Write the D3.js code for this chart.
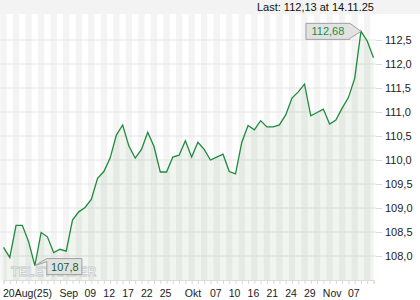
<!DOCTYPE html>
<html>
<head>
<meta charset="utf-8">
<script src="https://cdn.jsdelivr.net/npm/d3@7"></script>
<style>
  body { margin: 0; background: #fff; }
  svg { display: block; font-family: "Liberation Sans", Arial, sans-serif; }
</style>
</head>
<body>
<svg id="chart"></svg>
<script>
// values
const prices = [
  108.18, 107.97, 108.64, 108.64, 108.30, 107.80, 108.49, 108.40, 108.07, 108.14,
  108.10, 108.75, 108.92, 109.01, 109.18, 109.62, 109.76, 110.04, 110.52, 110.73,
  110.29, 110.04, 110.22, 110.58, 110.28, 109.75, 109.75, 110.06, 110.10, 110.40,
  110.06, 110.37, 110.22, 110.00, 110.06, 110.12, 109.76, 109.71, 110.37, 110.72,
  110.63, 110.82, 110.69, 110.69, 110.73, 110.94, 111.29, 111.42, 111.58, 110.92,
  110.99, 111.06, 110.75, 110.83, 111.08, 111.30, 111.70, 112.68, 112.48, 112.13
]
const xTickIndex = [0, 9, 13, 16, 19, 22, 25, 29, 33, 36, 39, 42, 45, 48, 51, 55]
const xTickLabels = ["20Aug(25)", "Sep", "09", "12", "17", "22", "25", "Okt", "07", "10", "16", "21", "24", "29", "Nov", "07"]
const yTicks = [108.0, 108.5, 109.0, 109.5, 110.0, 110.5, 111.0, 111.5, 112.0, 112.5]
const headerText = "Last: 112,13 at 14.11.25"
const maxLabel = "112,68", minLabel = "107,8"

const width = 420, height = 300
const plot = { left: 0, right: 376, top: 14, bottom: 280 }

const svg = d3.select('#chart').attr("width", width).attr("height", height)

const x = d3.scaleLinear().domain([0, prices.length - 1]).range([3.5, 373.5])
const y = d3.scaleLinear().domain([108.0, 112.5]).range([256, 40])
const fmt = d3.formatLocale({ decimal: ",", thousands: ".", grouping: [3], currency: ["", ""] }).format(".1f")

// header band
svg.append("rect").attr("x", 0).attr("y", 0).attr("width", width).attr("height", plot.top).attr("fill", "#f3f3f3")
svg.append("text").attr("x", 374).attr("y", 11).attr("text-anchor", "end")
  .attr("font-size", 11).attr("fill", "#111").text(headerText)

// vertical stripes, one per day
const step = x(1) - x(0)
svg.append("g").selectAll("rect")
  .data(prices.map((_, i) => i).filter(i => i % 2 === 0))
  .join("rect")
  .attr("x", i => x(i) - step / 2)
  .attr("y", plot.top)
  .attr("width", step)
  .attr("height", plot.bottom - plot.top)
  .attr("fill", "#f4f4f4")

// horizontal grid + right axis
const yAxis = svg.append("g").attr("transform", `translate(${plot.right},0)`)
  .call(d3.axisRight(y).tickValues(yTicks).tickSize(6).tickPadding(3).tickFormat(fmt))
yAxis.select(".domain").remove()
yAxis.selectAll("line").attr("stroke", "#dcdcdc")
yAxis.selectAll("text").attr("font-size", 11).attr("fill", "#222").attr("font-family", "Liberation Sans, Arial, sans-serif")
svg.append("g").selectAll("line").data(yTicks).join("line")
  .attr("x1", plot.left).attr("x2", plot.right)
  .attr("y1", d => y(d)).attr("y2", d => y(d))
  .attr("stroke", "#e4e4e4")

// area + line
const area = d3.area().x((_, i) => x(i)).y0(plot.bottom).y1(d => y(d))
svg.append("path").datum(prices).attr("d", area).attr("fill", "rgba(40,120,40,0.07)")
const line = d3.line().x((_, i) => x(i)).y(d => y(d))
svg.append("path").datum(prices).attr("d", line)
  .attr("fill", "none").attr("stroke", "#1f8a3c").attr("stroke-width", 1.3)

// watermark
svg.append("text").attr("x", 11).attr("y", 276).attr("font-size", 12).attr("font-weight", "bold")
  .attr("letter-spacing", 0.5).attr("fill", "#fff").attr("stroke", "#c8c8c8").attr("stroke-width", 0.8)
  .text("TELETRADER")

// bottom axis
const xAxis = svg.append("g").attr("transform", `translate(0,${plot.bottom})`)
  .call(d3.axisBottom(x).tickValues(prices.map((_, i) => i)).tickSize(4).tickFormat(""))
xAxis.select(".domain").attr("stroke", "#dcdcdc")
xAxis.selectAll("line").attr("stroke", "#d8d8d8")
svg.append("g").selectAll("text").data(xTickIndex).join("text")
  .attr("x", d => x(d) - 0.5)
  .attr("y", 297)
  .attr("font-size", 10.5).attr("fill", "#222")
  .text((_, i) => xTickLabels[i])

// max / min callouts
const iMax = prices.indexOf(d3.max(prices)), iMin = prices.indexOf(d3.min(prices))
const mx = x(iMax), my = y(prices[iMax])
svg.append("path")
  .attr("d", `M${mx - 55},${my - 8}H${mx - 11}L${mx},${my}L${mx - 11},${my + 7}V${my + 8}H${mx - 55}Z`)
  .attr("fill", "#e2e2e2").attr("stroke", "#a0a0a0")
svg.append("text").attr("x", mx - 33).attr("y", my + 4).attr("text-anchor", "middle")
  .attr("font-size", 11).attr("fill", "#1f8a3c").text(maxLabel)

const nx = x(iMin), ny = y(prices[iMin])
svg.append("path")
  .attr("d", `M${nx + 12},${ny - 7}H${nx + 47}V${ny + 9}H${nx + 12}V${ny - 4}L${nx},${ny}Z`)
  .attr("fill", "#e2e2e2").attr("stroke", "#a0a0a0")
svg.append("text").attr("x", nx + 30).attr("y", ny + 5).attr("text-anchor", "middle")
  .attr("font-size", 11).attr("fill", "#1a5e2e").text(minLabel)
</script>
</body>
</html>
